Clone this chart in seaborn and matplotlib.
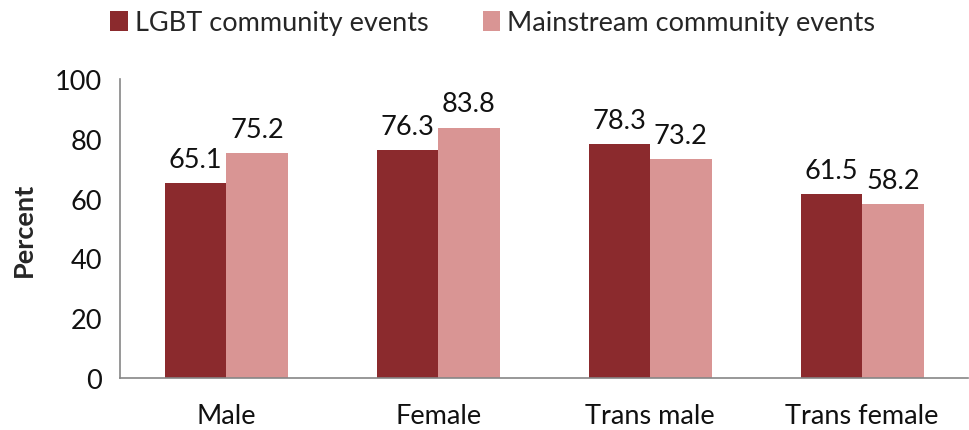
import matplotlib
matplotlib.use("Agg")
import matplotlib.pyplot as plt
import seaborn as sns
import pandas as pd
from matplotlib.patches import Patch

categories = ["Male", "Female", "Trans male", "Trans female"]
series_names = ["LGBT community events", "Mainstream community events"]
lgbt_values = [65.1, 76.3, 78.3, 61.5]
mainstream_values = [75.2, 83.8, 73.2, 58.2]
y_ticks = [0, 20, 40, 60, 80, 100]
colors = ["#8B2A2D", "#D99594"]

df = pd.DataFrame({
    "Group": categories * 2,
    "Series": [series_names[0]] * 4 + [series_names[1]] * 4,
    "Percent": lgbt_values + mainstream_values,
})

sns.set_theme(style="white")
plt.rcParams["font.family"] = ["Lato", "DejaVu Sans"]
FS = 19.5

fig = plt.figure(figsize=(9.7, 4.31), dpi=100)
ax = fig.add_axes([0.124, 0.121, 0.874, 0.693])

sns.barplot(data=df, x="Group", y="Percent", hue="Series", order=categories,
            hue_order=series_names, palette=colors, width=0.58, ax=ax,
            saturation=1, legend=False, errorbar=None, linewidth=0)

for cont in ax.containers:
    ax.bar_label(cont, labels=[f"{v:.1f}" for v in cont.datavalues],
                 padding=8, fontsize=FS, color="#111111")

ax.set_ylim(0, 100)
ax.set_xlim(-0.5, 3.5)
ax.set_yticks(y_ticks)
ax.set_yticklabels([str(t) for t in y_ticks], fontsize=FS)
ax.set_xticks(range(len(categories)))
ax.set_xticklabels(categories, fontsize=FS)
ax.set_xticks([-0.5, 0.5, 1.5, 2.5, 3.5], minor=True)
ax.tick_params(axis="x", which="major", length=0, pad=18, colors="#111111")
ax.tick_params(axis="x", which="minor", length=7, width=1.2, color="#868686", direction="out")
ax.tick_params(axis="y", length=7, width=1.2, color="#868686", direction="out", labelcolor="#111111", pad=6)
ax.set_xlabel("")
ax.set_ylabel("Percent", fontsize=FS, fontweight="bold", labelpad=14)

for s in ["top", "right"]:
    ax.spines[s].set_visible(False)
for s in ["left", "bottom"]:
    ax.spines[s].set_color("#868686")
    ax.spines[s].set_linewidth(1.2)

handles = [Patch(facecolor=c, edgecolor="none") for c in colors]
fig.legend(handles, series_names, loc="center", bbox_to_anchor=(0.508, 0.945),
           ncol=2, frameon=False, fontsize=FS, handlelength=0.65, handleheight=0.75,
           handletextpad=0.25, columnspacing=2.0)

fig.savefig("out.png", dpi=100)
